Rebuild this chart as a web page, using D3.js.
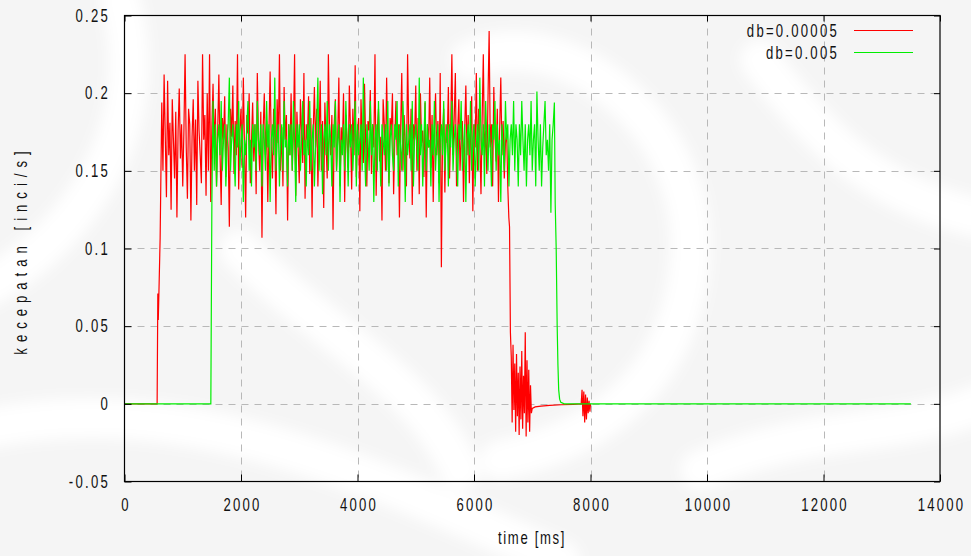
<!DOCTYPE html>
<html>
<head>
<meta charset="utf-8">
<script src="https://cdn.jsdelivr.net/npm/d3@7"></script>
<style>
  html, body { margin: 0; padding: 0; background: #ffffff; }
  svg { display: block; }
  text { font-family: "Liberation Sans", Arial, Helvetica, sans-serif; fill: #111; }
</style>
</head>
<body>
<svg id="chart" width="971" height="556"></svg>
<script>
// Axis ticks
const xTicks = [0, 2000, 4000, 6000, 8000, 10000, 12000, 14000];
const yTicks = [-0.05, 0, 0.05, 0.1, 0.15, 0.2, 0.25];
const yTickLabels = ["-0.05", "0", "0.05", "0.1", "0.15", "0.2", "0.25"];

// Series names
const seriesNames = ["db=0.00005", "db=0.005"];

// db=0.00005 : start-up, sampled section (every 20 ms from 640 ms), settle-down
const redLeadTime = [0, 560, 572, 580, 590, 612];
const redLeadVal  = [0, 0, 0.071, 0.054, 0.070, 0.107];
const redSampleStart = 640;
const redSampleStep = 20;
const redSamples = [
  .194,.150,.212,.172,.133,.208,.160,.181,.125,.196,.170,.145,.188,.120,.176,.203,.158,.180,.140,.176,
  .225,.165,.132,.190,.180,.118,.172,.196,.150,.183,.128,.208,.176,.160,.142,.225,.170,.186,.134,.200,
  .150,.225,.130,.178,.206,.165,.190,.140,.176,.212,.160,.128,.184,.170,.198,.146,.180,.165,.114,.190,
  .172,.205,.148,.182,.160,.225,.138,.176,.190,.152,.210,.165,.120,.186,.174,.200,.142,.168,.194,.156,
  .180,.135,.213,.170,.150,.188,.107,.176,.200,.160,.182,.130,.176,.214,.166,.145,.190,.172,.122,.196,
  .168,.225,.150,.178,.140,.204,.170,.186,.118,.180,.160,.200,.150,.176,.225,.134,.188,.166,.142,.196,
  .176,.155,.213,.132,.180,.170,.198,.148,.184,.120,.176,.204,.165,.190,.140,.172,.208,.150,.182,.126,
  .194,.168,.145,.225,.176,.160,.186,.112,.180,.196,.150,.172,.210,.140,.178,.164,.200,.130,.186,.170,
  .152,.205,.176,.138,.190,.160,.218,.146,.176,.184,.124,.196,.170,.155,.206,.168,.140,.182,.176,.202,
  .148,.180,.165,.225,.134,.176,.190,.156,.172,.118,.196,.180,.150,.210,.166,.142,.184,.176,.200,.135,
  .170,.195,.160,.180,.120,.176,.213,.150,.186,.168,.140,.225,.176,.158,.190,.128,.180,.170,.205,.150,
  .184,.135,.200,.168,.176,.146,.194,.120,.180,.165,.210,.152,.186,.130,.176,.200,.160,.182,.142,.213,
  .088,.172,.190,.136,.180,.168,.204,.145,.178,.225,.160,.184,.213,.140,.176,.196,.150,.170,.182,.130,
  .176,.205,.160,.186,.142,.172,.198,.124,.180,.165,.213,.150,.190,.170,.135,.184,.225,.160,.176,.148,
  .196,.240,.165,.180,.140,.204,.172,.156,.190,.130,.176,.210,.160,.182,.145,.168,.176
];
const redTailTime = [6580,6598,6610,6625,6640,6655,6670,6685,6700,6715,6730,6745,6760,6775,6790,6805,
  6820,6835,6850,6865,6880,6895,6910,6925,6940,6955,6970,6985,7000,7050,7150,7300,7500,7700,7840,
  7855,7870,7885,7900,7915,7930,7945,7960,7975,7990,8000];
const redTailVal = [.140,.120,.114,.046,.030,-.012,.038,-.004,.026,-.018,.032,-.008,.020,-.020,.024,-.010,
  .034,-.016,.018,-.006,.046,-.021,.028,-.012,.022,-.018,.012,-.006,-.003,-.002,-.0015,-.001,-.0006,-.0003,0,
  .009,-.008,.008,-.012,.006,-.010,.004,-.006,.002,-.005,0];

// db=0.005 : start-up, sampled section (every 20 ms from 1500 ms), settle-down
const greenLeadTime = [0, 1482];
const greenLeadVal  = [0, 0];
const greenSampleStart = 1500;
const greenSampleStep = 20;
const greenSamples = [
  .130,.195,.150,.180,.140,.170,.180,.160,.195,.150,.170,.180,.140,.165,.180,.210,.150,.170,.180,.160,
  .140,.180,.165,.195,.150,.170,.180,.130,.170,.160,.180,.195,.150,.170,.140,.180,.165,.180,.150,.195,
  .170,.160,.180,.140,.180,.170,.150,.195,.165,.180,.130,.170,.180,.160,.210,.150,.170,.180,.140,.170,
  .180,.150,.195,.165,.170,.140,.180,.160,.180,.150,.195,.170,.130,.180,.165,.180,.150,.170,.195,.160,
  .170,.140,.180,.160,.195,.150,.170,.180,.140,.165,.180,.210,.150,.170,.180,.135,.170,.180,.160,.195,
  .150,.180,.170,.140,.180,.165,.195,.150,.170,.180,.130,.170,.160,.180,.150,.195,.170,.140,.180,.165,
  .180,.150,.170,.195,.140,.180,.160,.170,.180,.150,.210,.165,.140,.180,.170,.150,.195,.160,.180,.130,
  .170,.180,.150,.195,.165,.140,.180,.170,.160,.180,.150,.195,.140,.170,.180,.160,.150,.180,.170,.195,
  .140,.180,.165,.150,.195,.170,.130,.180,.160,.170,.180,.150,.195,.140,.170,.180,.165,.150,.210,.160,
  .180,.140,.170,.195,.150,.180,.165,.170,.140,.180,.160,.195,.150,.170,.180,.130,.170,.180,.160,.195,
  .150,.170,.180,.140,.180,.165,.195,.150,.170,.180,.160,.140,.180,.170,.195,.150,.165,.180,.130,.170,
  .180,.160,.195,.150,.170,.180,.140,.165,.180,.150,.210,.170,.160,.180,.140,.195,.170,.150,.180,.165,
  .140,.180,.170,.195,.150,.180,.160,.170,.130,.180,.165,.150,.195,.170,.180,.140,.170,.180,.160,.195,
  .150,.180,.170,.140,.180,.160,.195,.170,.150,.180,.140,.170,.180,.160,.195,.150,.170,.180,.140,.201,
  .170,.150,.180,.140,.165,.180,.195,.160,.170,.150,.180,.123,.170,.180,.194
];
const greenTailTime = [7394, 7411, 7428, 7441, 7454, 7470, 7490, 7550, 13500];
const greenTailVal  = [0.129, 0.100, 0.050, 0.025, 0.009, 0.003, 0.001, 0, 0];

function buildSeries(leadT, leadV, start, step, samples, tailT, tailV) {
  const pts = leadT.map((t, i) => [t, leadV[i]]);
  samples.forEach((v, i) => pts.push([start + i * step, v]));
  tailT.forEach((t, i) => pts.push([t, tailV[i]]));
  return pts;
}

const redSeries = buildSeries(redLeadTime, redLeadVal, redSampleStart, redSampleStep, redSamples, redTailTime, redTailVal);
const greenSeries = buildSeries(greenLeadTime, greenLeadVal, greenSampleStart, greenSampleStep, greenSamples, greenTailTime, greenTailVal);

const svg = d3.select("#chart");
const W = 971, H = 556;
const plotL = 124.5, plotR = 940, plotT = 15.5, plotB = 481.5;
const SX = 0.75;          // horizontal squeeze of the lettering
const FONT = 17.5;

// soft background watermark
const defs = svg.append("defs");
defs.append("filter").attr("id", "soft").attr("x", "-20%").attr("y", "-20%").attr("width", "140%").attr("height", "140%")
  .append("feGaussianBlur").attr("stdDeviation", 7);
const bg = svg.append("g");
bg.append("rect").attr("width", W).attr("height", H).attr("fill", "#f5f5f5");
const wm = [
  "M 120 0 C 160 140, 60 260, -40 300",
  "M -20 430 C 200 380, 420 500, 560 560",
  "M 470 60 C 560 20, 700 120, 690 260 C 680 380, 600 440, 500 460",
  "M 240 250 C 330 340, 420 380, 460 470",
  "M 700 470 C 820 420, 900 440, 990 400",
  "M 760 60 C 820 140, 880 200, 990 220"
];
bg.append("g").attr("filter", "url(#soft)")
  .selectAll("path").data(wm).join("path")
  .attr("d", d => d).attr("fill", "none").attr("stroke", "#ffffff")
  .attr("stroke-width", 40).attr("stroke-linecap", "round");

const x = d3.scaleLinear().domain([0, 14000]).range([plotL, plotR]);
const y = d3.scaleLinear().domain([-0.05, 0.25]).range([plotB, plotT]);

// grid
const grid = svg.append("g").attr("stroke", "#b8b8b8").attr("stroke-width", 1).attr("stroke-dasharray", "7,6");
grid.selectAll("line.gx").data(xTicks.filter(t => t > 0 && t < 14000)).join("line")
  .attr("x1", d => Math.round(x(d)) + 0.5).attr("x2", d => Math.round(x(d)) + 0.5)
  .attr("y1", plotT).attr("y2", plotB);
grid.selectAll("line.gy").data(yTicks.filter(t => t > -0.05 && t < 0.25)).join("line")
  .attr("y1", d => Math.round(y(d)) + 0.5).attr("y2", d => Math.round(y(d)) + 0.5)
  .attr("x1", plotL).attr("x2", plotR);

// data lines
const line = d3.line().x(d => x(d[0])).y(d => y(d[1]));
svg.append("path").datum(redSeries).attr("d", line)
  .attr("fill", "none").attr("stroke", "#ff0000").attr("stroke-width", 1.2).attr("stroke-linejoin", "miter");
svg.append("path").datum(greenSeries).attr("d", line)
  .attr("fill", "none").attr("stroke", "#00ee00").attr("stroke-width", 1.2).attr("stroke-linejoin", "miter");

// squeeze a text element horizontally around its anchor point
function condense(sel) {
  sel.each(function () {
    const t = d3.select(this);
    const xv = +t.attr("x") || 0, yv = +t.attr("y") || 0;
    const prev = t.attr("transform") || "";
    t.attr("x", 0).attr("y", 0).attr("transform", `${prev} translate(${xv},${yv}) scale(${SX},1)`);
  });
}

// axes (ticks inward, mirrored on top and right)
const ax = svg.append("g").attr("transform", `translate(0,${plotB})`)
  .call(d3.axisBottom(x).tickValues(xTicks).tickFormat(d3.format("d")).tickSizeInner(-7).tickSizeOuter(0).tickPadding(17));
const ay = svg.append("g").attr("transform", `translate(${plotL},0)`)
  .call(d3.axisLeft(y).tickValues(yTicks).tickFormat((d, i) => yTickLabels[i]).tickSizeInner(-7).tickSizeOuter(0).tickPadding(14.5));
const axT = svg.append("g").attr("transform", `translate(0,${plotT})`)
  .call(d3.axisTop(x).tickValues(xTicks).tickFormat("").tickSizeInner(-6).tickSizeOuter(0));
const ayR = svg.append("g").attr("transform", `translate(${plotR},0)`)
  .call(d3.axisRight(y).tickValues(yTicks).tickFormat("").tickSizeInner(-6).tickSizeOuter(0));
[ax, ay, axT, ayR].forEach(g => {
  g.attr("font-family", null).attr("font-size", null);
  g.select(".domain").remove();
  g.selectAll(".tick line").attr("stroke", "#000").attr("stroke-width", 1);
  g.selectAll(".tick text").attr("font-size", FONT).attr("letter-spacing", "3px").attr("fill", "#111");
});
condense(ax.selectAll(".tick text"));
condense(ay.selectAll(".tick text"));
ax.selectAll(".tick text").attr("transform", function () { return d3.select(this).attr("transform").replace("translate(0,", "translate(1,"); });

// border
svg.append("rect").attr("x", plotL).attr("y", plotT).attr("width", plotR - plotL).attr("height", plotB - plotT)
  .attr("fill", "none").attr("stroke", "#000").attr("stroke-width", 1.2);

// axis titles
const xt = svg.append("text").attr("x", 532).attr("y", 544).attr("text-anchor", "middle")
  .attr("font-size", FONT).attr("letter-spacing", "2.2px").text("time [ms]");
condense(xt);
const yt = svg.append("text").attr("x", 0).attr("y", 0).attr("text-anchor", "middle")
  .attr("font-size", FONT).attr("letter-spacing", "8px").text("kecepatan [inci/s]")
  .attr("transform", "translate(27,250) rotate(-90)");
condense(yt);

// legend
const legend = svg.append("g");
const legendColors = ["#ff0000", "#00ee00"];
seriesNames.forEach((name, i) => {
  const ly = 30.5 + i * 22;
  const lt = legend.append("text").attr("x", 839).attr("y", ly + 6.2).attr("text-anchor", "end")
    .attr("font-size", FONT).attr("letter-spacing", "3px").text(name);
  condense(lt);
  legend.append("line").attr("x1", 854).attr("x2", 913).attr("y1", ly).attr("y2", ly)
    .attr("stroke", legendColors[i]).attr("stroke-width", 1.2);
});
</script>
</body>
</html>
